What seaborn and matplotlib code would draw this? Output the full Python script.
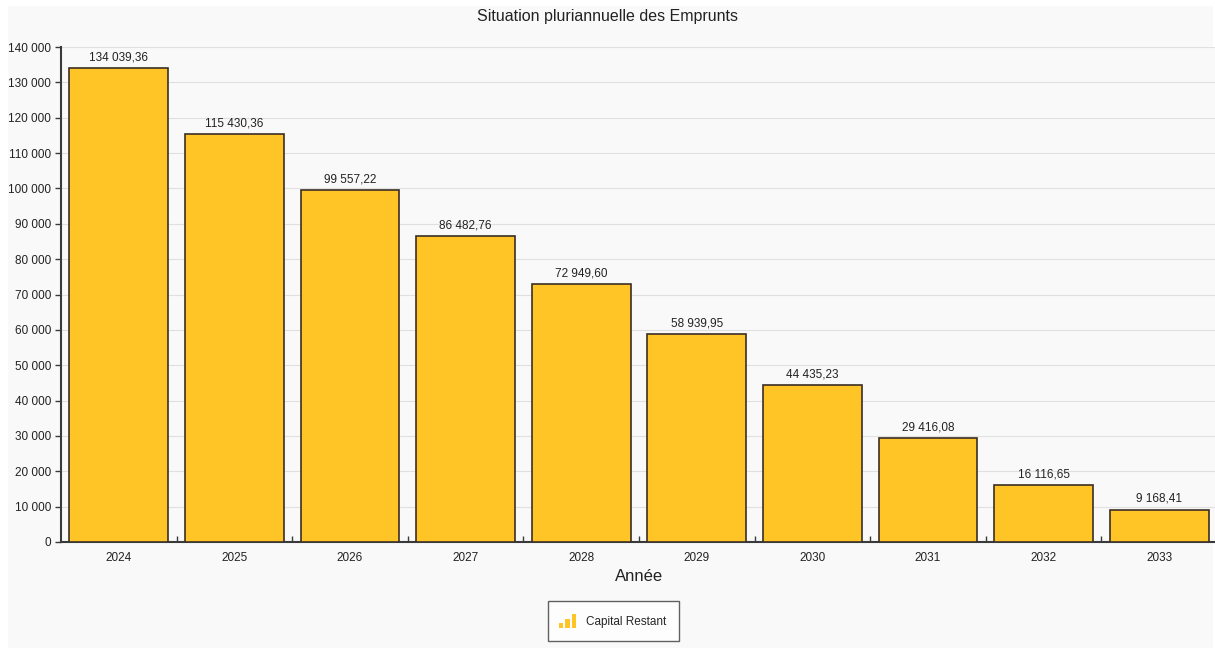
import matplotlib
matplotlib.use("Agg")
import matplotlib.pyplot as plt
import seaborn as sns
import pandas as pd
from matplotlib.patches import Rectangle
from matplotlib.legend_handler import HandlerBase
from matplotlib.ticker import FuncFormatter, MultipleLocator, FixedLocator

years = ["2024", "2025", "2026", "2027", "2028", "2029", "2030", "2031", "2032", "2033"]
capital = [134039.36, 115430.36, 99557.22, 86482.76, 72949.60, 58939.95,
           44435.23, 29416.08, 16116.65, 9168.41]
series_name = "Capital Restant"
title = "Situation pluriannuelle des Emprunts"
xlabel = "Année"

BAR = "#FFC425"
EDGE = "#3b2f25"
BG = "#f9f9f9"

sns.set_theme(style="white")
plt.rcParams['font.family'] = ['Liberation Sans', 'DejaVu Sans']

df = pd.DataFrame({"Année": years, "Capital": capital})

fig = plt.figure(figsize=(12.15, 6.48), dpi=100, facecolor="white")
fig.patches.append(Rectangle((8/1215, 0), 1 - 10/1215, 1 - 6/648, transform=fig.transFigure,
                             facecolor=BG, edgecolor="none", zorder=-10))
ax = fig.add_axes([61/1215, 1 - 542/648, (1217 - 61)/1215, (542 - 47)/648])
ax.set_facecolor(BG)

sns.barplot(data=df, x="Année", y="Capital", color=BAR, saturation=1, width=0.856,
            edgecolor=EDGE, linewidth=1.2, ax=ax, zorder=3)

def fr(v, dec=2):
    s = f"{v:,.{dec}f}"
    return s.replace(",", " ").replace(".", ",")

for p, v in zip(ax.patches, capital):
    ax.text(p.get_x() + p.get_width()/2, v + 1300, fr(v), ha="center", va="bottom",
            fontsize=8.5, color="#222222", zorder=4)

ax.set_ylim(0, 140000)
ax.set_xlim(-0.5, len(years) - 0.5)
ax.yaxis.set_major_locator(MultipleLocator(10000))
ax.yaxis.set_major_formatter(FuncFormatter(lambda v, p: fr(v, 0)))
ax.grid(axis="y", color="#e0e0e0", linewidth=0.8, zorder=0)
ax.set_axisbelow(True)

for s in ["top", "right"]:
    ax.spines[s].set_visible(False)
for s in ["left", "bottom"]:
    ax.spines[s].set_color("#3a3a3a")
    ax.spines[s].set_linewidth(1.5)

ax.tick_params(axis="y", which="major", left=True, length=4, width=1, color="#3a3a3a",
               labelsize=8.5, labelcolor="#222222", pad=3)
ax.tick_params(axis="x", which="major", bottom=False, labelsize=8.5, labelcolor="#222222", pad=1)
ax.xaxis.set_minor_locator(FixedLocator([i + 0.5 for i in range(len(years) - 1)]))
ax.tick_params(axis="x", which="minor", bottom=True, direction="in", length=4, width=1, color="#3a3a3a")

ax.set_ylabel("")
ax.set_xlabel(xlabel, fontsize=12, color="#222222", labelpad=4)
fig.text(0.5, 1 - 17/648, title, ha="center", va="center", fontsize=11.5, color="#222222")

class BarIconHandler(HandlerBase):
    def create_artists(self, legend, orig_handle, xdescent, ydescent, width, height, fontsize, trans):
        arts = []
        w = 3.0
        gap = 1.5
        hs = [0.35, 0.65, 1.0]
        total = 3*w + 2*gap
        x0 = xdescent + (width - total) / 2
        for i, h in enumerate(hs):
            r = Rectangle((x0 + i*(w + gap), -ydescent), w, height*h,
                          facecolor=BAR, edgecolor="none", transform=trans)
            arts.append(r)
        return arts

h = Rectangle((0, 0), 1, 1)
leg = fig.legend([h], [series_name], handler_map={Rectangle: BarIconHandler()},
                 loc="center", bbox_to_anchor=(613.5/1215, 1 - 621/648), frameon=True,
                 fontsize=8.5, handlelength=1.1, handleheight=1.5, borderpad=1.1,
                 handletextpad=1.0, borderaxespad=0, fancybox=False)
leg.get_frame().set_edgecolor("#3a3a3a")
leg.get_frame().set_linewidth(1.0)
leg.get_frame().set_facecolor("white")

fig.savefig("out.png", dpi=100, facecolor=fig.get_facecolor())
